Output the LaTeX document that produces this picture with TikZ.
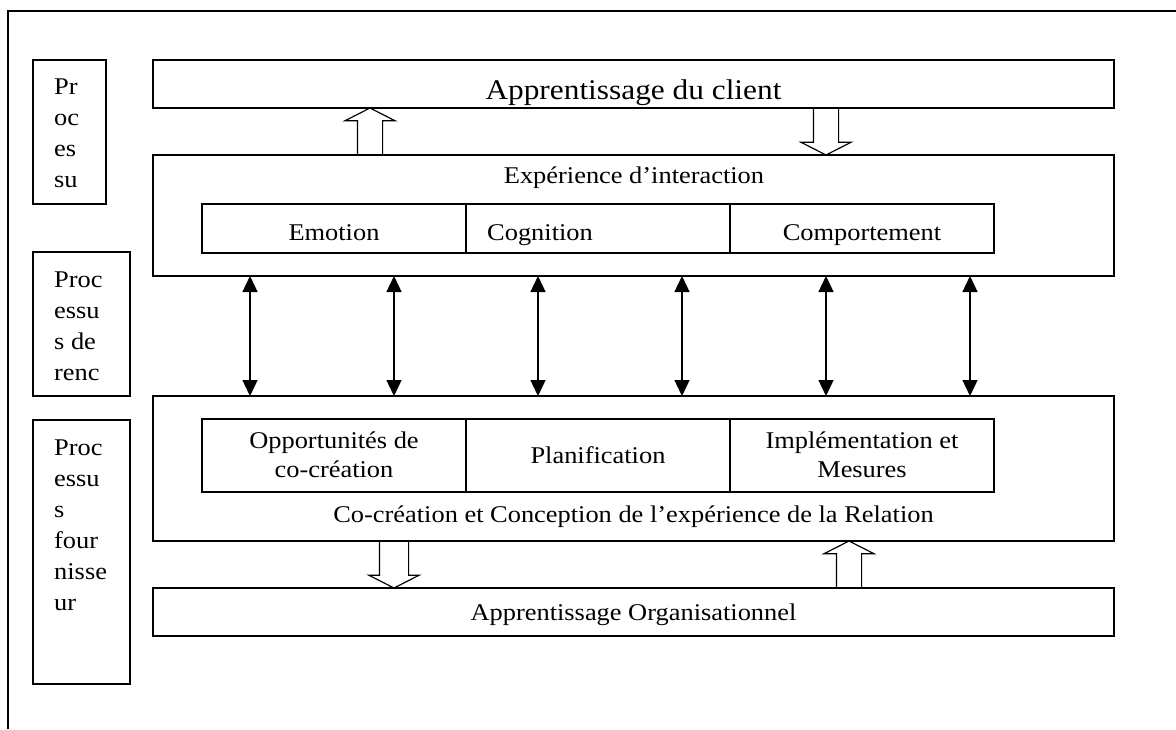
\documentclass[tikz,border=0pt]{standalone}
\usepackage{fontspec}
\setmainfont{Liberation Serif}[FakeStretch=1.1]
\usetikzlibrary{arrows.meta,shapes.arrows}

\begin{document}
\begin{tikzpicture}[x=1pt,y=-1pt,
  box/.style={draw,line width=1.2pt,inner sep=0pt,outer sep=0pt},
  txt/.style={inner sep=0pt,anchor=base,align=center,font=\fontsize{24}{29}\selectfont},
  sidetxt/.style={inner sep=0pt,anchor=base west,align=left,font=\fontsize{24}{31}\selectfont},
  fat/.style={draw,line width=1.2pt,single arrow,single arrow head extend=12.5pt,
    single arrow tip angle=126,minimum height=47pt,inner sep=12pt,outer sep=0pt},
  dbl/.style={{Triangle[width=15pt,length=16pt]}-{Triangle[width=15pt,length=16pt]},line width=1.5pt}]
\useasboundingbox (0,0) rectangle (1176,729);

% Open frame round the figure.
\draw[line width=2pt] (8,729) -- (8,11) -- (1176,11);

% Side boxes (text is placed by its last line).
\node[box,minimum width=73pt,minimum height=144pt] (side1) at (69.5,132) {};
\node[box,minimum width=97pt,minimum height=144pt] (side2) at (81.5,324) {};
\node[box,minimum width=97pt,minimum height=264pt] (side3) at (81.5,552) {};
\node[sidetxt] (side1t) at (54,187) {Pr\\oc\\es\\su};
\node[sidetxt] (side2t) at (54,380) {Proc\\essu\\s de\\renc};
\node[sidetxt] (side3t) at (54,610) {Proc\\essu\\s\\four\\nisse\\ur};

% Main boxes.
\node[box,minimum width=961pt,minimum height=48pt] (client) at (633.5,84) {};
\node[box,minimum width=961pt,minimum height=121pt] (expe) at (633.5,215.5) {};
\node[box,minimum width=961pt,minimum height=145pt] (cocre) at (633.5,468.5) {};
\node[box,minimum width=961pt,minimum height=48pt] (orga) at (633.5,612) {};

% Inner rows.
\foreach \n/\x in {emo/334,cog/598,comp/862}
  \node[box,minimum width=264pt,minimum height=49pt] (\n) at (\x,228.5) {};
\foreach \n/\x in {opp/334,plan/598,impl/862}
  \node[box,minimum width=264pt,minimum height=73pt] (\n) at (\x,455.5) {};

% Texts.
\node[txt,font=\fontsize{28.5}{34}\selectfont] (clientt) at (633.5,99) {Apprentissage du client};
\node[txt] (expet) at (634,183) {Expérience d’interaction};
\node[txt] (emot) at (334,240) {Emotion};
\node[txt,anchor=base west] (cogt) at (487,240) {Cognition};
\node[txt] (compt) at (862,240) {Comportement};
\node[txt] (oppt) at (334,477) {Opportunités de\\co-création};
\node[txt] (plant) at (598,463) {Planification};
\node[txt] (implt) at (862,477) {Implémentation et\\Mesures};
\node[txt] (cocret) at (633.5,522) {Co-création et Conception de l’expérience de la Relation};
\node[txt] (orgat) at (633.5,620) {Apprentissage Organisationnel};

% Block arrows between the layers.
\node[fat,shape border rotate=90,anchor=tail] (upc) at (370,0 |- expe.north) {};
\node[fat,shape border rotate=270,anchor=tail] (downc) at (826,0 |- client.south) {};
\node[fat,shape border rotate=270,anchor=tail,inner sep=14pt,single arrow head extend=10.5pt] (downo) at (394,0 |- cocre.south) {};
\node[fat,shape border rotate=90,anchor=tail] (upo) at (849,0 |- orga.north) {};

% Two-way arrows.
\foreach \x in {250,394,538,682,826,970}
  \draw[dbl] (\x,0 |- expe.south) -- (\x,0 |- cocre.north);

\end{tikzpicture}
\end{document}
